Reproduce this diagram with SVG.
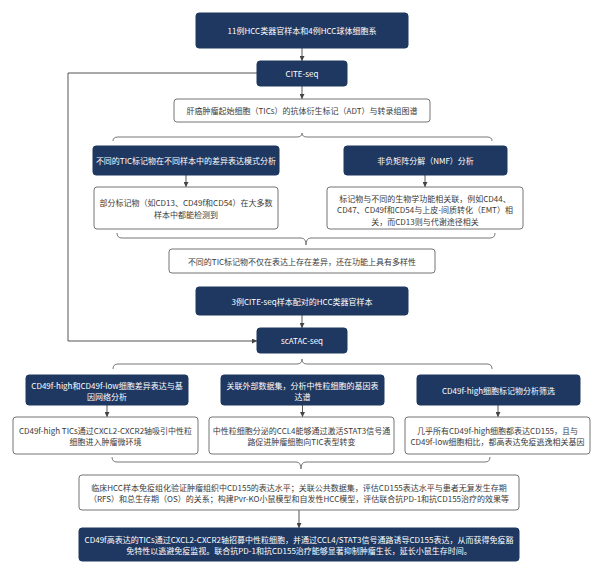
<svg xmlns="http://www.w3.org/2000/svg" width="605" height="575" viewBox="0 0 605 575">
<defs>
<marker id="ah" viewBox="0 0 10 10" refX="10" refY="5" markerWidth="5" markerHeight="5" orient="auto" markerUnits="userSpaceOnUse">
<path d="M0,0 L10,5 L0,10 z" fill="#444"/>
</marker>
</defs>
<style>
.dk{fill:#1f3861;stroke:#1f3861;stroke-width:1}
.wh{fill:#ffffff;stroke:#747474;stroke-width:1}
text{font-family:"Noto Sans CJK SC","Noto Sans",sans-serif;font-size:8px;text-anchor:middle;dominant-baseline:central}
.tw{fill:#ffffff}
.tb{fill:#3a3a3a}
.ln{fill:none;stroke:#555;stroke-width:1}
.br{fill:none;stroke:#777;stroke-width:1}
</style>
<rect width="605" height="575" fill="#ffffff"/>
<g id="connectors">
<line class="ln" x1="302" y1="48" x2="302" y2="61" marker-end="url(#ah)"/>
<line class="ln" x1="302" y1="86" x2="302" y2="99" marker-end="url(#ah)"/>
<polyline class="ln" points="257,73 68,73 68,341 257,341" marker-end="url(#ah)"/>
<line class="ln" x1="186" y1="175" x2="186" y2="187" marker-end="url(#ah)"/>
<line class="ln" x1="425" y1="175" x2="425" y2="187" marker-end="url(#ah)"/>
<line class="ln" x1="302" y1="315" x2="302" y2="328" marker-end="url(#ah)"/>
<line class="ln" x1="107" y1="405" x2="107" y2="417" marker-end="url(#ah)"/>
<line class="ln" x1="302.5" y1="405" x2="302.5" y2="417" marker-end="url(#ah)"/>
<line class="ln" x1="498" y1="405" x2="498" y2="417" marker-end="url(#ah)"/>
<line class="ln" x1="299" y1="510" x2="299" y2="528" marker-end="url(#ah)"/>
<path class="br" d="M113,141 Q113,137 118,137 H297 Q302,137 302,133 Q302,137 307,137 H487 Q492,137 492,141"/>
<path class="br" d="M117,233 Q117,238 122,238 H301 Q306,238 306,245 Q306,238 311,238 H490 Q495,238 495,233"/>
<path class="br" d="M113,369 Q113,364 118,364 H297 Q302,364 302,359 Q302,364 307,364 H487 Q492,364 492,369"/>
<path class="br" d="M112,457 Q112,462 117,462 H296 Q301,462 301,469 Q301,462 306,462 H485 Q490,462 490,457"/>
</g>
<g id="n1"><rect class="dk" x="196" y="13" width="212" height="35" rx="3"/><text class="tw" x="302" y="30.5">11例HCC类器官样本和4例HCC球体细胞系</text></g>
<g id="n2"><rect class="dk" x="257" y="61" width="90" height="25" rx="3"/><text class="tw" x="302" y="73.5">CITE-seq</text></g>
<g id="n3"><rect class="wh" x="174" y="99" width="256" height="23" rx="3"/><text class="tb" x="302" y="110.5">肝癌肿瘤起始细胞（TICs）的抗体衍生标记（ADT）与转录组图谱</text></g>
<g id="n4"><rect class="dk" x="93" y="146" width="186" height="29" rx="3"/><text class="tw" x="186" y="160.5">不同的TIC标记物在不同样本中的差异表达模式分析</text></g>
<g id="n5"><rect class="dk" x="344" y="146" width="163" height="29" rx="3"/><text class="tw" x="425.5" y="160.5">非负矩阵分解（NMF）分析</text></g>
<g id="n6"><rect class="wh" x="94" y="187" width="184" height="42" rx="3"/><text class="tb" x="186" y="202">部分标记物（如CD13、CD49f和CD54）在大多数</text><text class="tb" x="186" y="214">样本中都能检测到</text></g>
<g id="n7"><rect class="wh" x="327" y="187" width="196" height="42" rx="3"/><text class="tb" x="425" y="198">标记物与不同的生物学功能相关联，例如CD44、</text><text class="tb" x="425" y="209.5">CD47、CD49f和CD54与上皮-间质转化（EMT）相</text><text class="tb" x="425" y="221">关，而CD13则与代谢途径相关</text></g>
<g id="n8"><rect class="wh" x="169" y="249" width="266" height="24" rx="3"/><text class="tb" x="302" y="261">不同的TIC标记物不仅在表达上存在差异，还在功能上具有多样性</text></g>
<g id="n9"><rect class="dk" x="196" y="287" width="212" height="28" rx="3"/><text class="tw" x="302" y="301">3例CITE-seq样本配对的HCC类器官样本</text></g>
<g id="n10"><rect class="dk" x="257" y="328" width="90" height="25" rx="3"/><text class="tw" x="302" y="340.5">scATAC-seq</text></g>
<g id="n11"><rect class="dk" x="26" y="375" width="162" height="30" rx="3"/><text class="tw" x="107" y="385">CD49f-high和CD49f-low细胞差异表达与基</text><text class="tw" x="107" y="396">因网络分析</text></g>
<g id="n12"><rect class="dk" x="221" y="375" width="163" height="30" rx="3"/><text class="tw" x="302.5" y="385">关联外部数据集，分析中性粒细胞的基因表</text><text class="tw" x="302.5" y="396">达谱</text></g>
<g id="n13"><rect class="dk" x="417" y="375" width="163" height="30" rx="3"/><text class="tw" x="498.5" y="390">CD49f-high细胞标记物分析筛选</text></g>
<g id="n14"><rect class="wh" x="13" y="417" width="185" height="37" rx="3"/><text class="tb" x="105.5" y="430">CD49f-high TICs通过CXCL2-CXCR2轴吸引中性粒</text><text class="tb" x="105.5" y="441.5">细胞进入肿瘤微环境</text></g>
<g id="n15"><rect class="wh" x="209" y="417" width="185" height="37" rx="3"/><text class="tb" x="301.5" y="430">中性粒细胞分泌的CCL4能够通过激活STAT3信号通</text><text class="tb" x="301.5" y="441.5">路促进肿瘤细胞向TIC表型转变</text></g>
<g id="n16"><rect class="wh" x="405" y="417" width="185" height="37" rx="3"/><text class="tb" x="497.5" y="430">几乎所有CD49f-high细胞都表达CD155，且与</text><text class="tb" x="497.5" y="441.5">CD49f-low细胞相比，都高表达免疫逃逸相关基因</text></g>
<g id="n17"><rect class="wh" x="79" y="475" width="440" height="35" rx="3"/><text class="tb" x="299" y="487.5">临床HCC样本免疫组化验证肿瘤组织中CD155的表达水平；关联公共数据集，评估CD155表达水平与患者无复发生存期</text><text class="tb" x="299" y="498.5">（RFS）和总生存期（OS）的关系；构建Pvr-KO小鼠模型和自发性HCC模型，评估联合抗PD-1和抗CD155治疗的效果等</text></g>
<g id="n18"><rect class="dk" x="79" y="528" width="440" height="33" rx="3"/><text class="tw" x="299" y="539.5">CD49f高表达的TICs通过CXCL2-CXCR2轴招募中性粒细胞，并通过CCL4/STAT3信号通路诱导CD155表达，从而获得免疫豁</text><text class="tw" x="299" y="550.5">免特性以逃避免疫监视。联合抗PD-1和抗CD155治疗能够显著抑制肿瘤生长，延长小鼠生存时间。</text></g>
</svg>
